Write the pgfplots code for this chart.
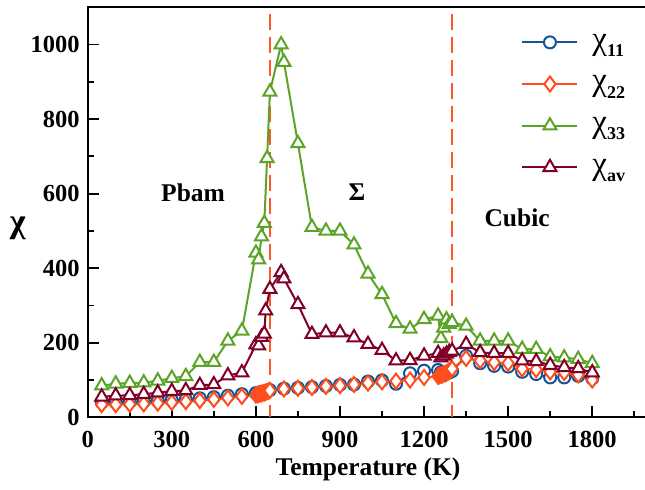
\documentclass[border=0pt]{standalone}
\usepackage{fontspec}
\setmainfont{Liberation Serif}
\usepackage{pgfplots}
\pgfplotsset{compat=1.18}

\definecolor{cblue}{RGB}{22,84,152}
\definecolor{corange}{RGB}{255,78,28}
\definecolor{cgreen}{RGB}{92,164,40}
\definecolor{cmaroon}{RGB}{128,0,40}
\definecolor{cdash}{RGB}{255,88,40}

\newcommand{\leg}[1]{{\fontsize{33}{33}\selectfont χ}\raisebox{-0.3em}{\fontsize{18}{18}\selectfont\bfseries #1}}

\begin{document}
\begin{tikzpicture}
\begin{axis}[
  scale only axis,
  width=560.6pt, height=410pt,
  xmin=0, xmax=2000, ymin=0, ymax=1100,
  xtick={0,300,...,1800},
  minor xtick={150,450,...,1950},
  ytick={0,200,...,1000},
  minor ytick={100,300,...,900},
  tick align=inside,
  xtick pos=bottom, ytick pos=left,
  major tick length=11pt, minor tick length=6pt,
  axis line style={line width=2pt},
  every tick/.style={line width=1.8pt, black},
  tick label style={font=\fontsize{24.5}{28}\selectfont\bfseries},
  /pgf/number format/assume math mode=true,
  /pgf/number format/1000 sep={},
  xticklabel shift=10pt,
  yticklabel shift=4.5pt,
  xlabel={Temperature (K)},
  ylabel={\fontsize{34}{34}\selectfont χ},
  label style={font=\fontsize{25.5}{30}\selectfont\bfseries},
  xlabel style={at={(axis description cs:0.5,0)}, anchor=center, yshift=-52pt},
  ylabel style={rotate=-90, at={(axis description cs:0,0.462)}, anchor=center, xshift=-70pt},
  every axis plot/.append style={line width=2pt},
  legend style={draw=none, fill=none, at={(axis description cs:0.768,0.945)},
    anchor=north west, font=\fontsize{25}{30}\selectfont, row sep=21pt,
    cells={anchor=west},
    /tikz/every odd column/.append style={column sep=12pt}},
  legend image code/.code={\draw[mark repeat=2,mark phase=2,#1]
    plot coordinates {(0pt,0pt) (27.5pt,0pt) (55pt,0pt)};},
]

% vertical phase boundaries
\addplot[forget plot, color=cdash, line width=2pt, dash pattern=on 16pt off 7pt]
  coordinates {(650,1083) (650,0)};
\addplot[forget plot, color=cdash, line width=2pt, dash pattern=on 16pt off 7pt]
  coordinates {(1300,1083) (1300,0)};

% chi_11
\addplot[color=cblue, mark=*, mark size=6pt, mark options={fill=white, line width=2pt}]
  coordinates {
  (50,40) (100,40) (150,41) (200,42) (250,44) (300,46) (350,48) (400,51)
  (450,54) (500,58) (550,62) (600,65) (610,66) (620,68) (630,69) (640,71)
  (650,73) (700,77) (750,79) (800,81) (850,84) (900,87) (950,88) (1000,96)
  (1050,99) (1100,90) (1150,118) (1200,125) (1250,127) (1260,121) (1270,118)
  (1280,118) (1290,120) (1300,124) (1350,165) (1400,145) (1450,138) (1500,136)
  (1550,122) (1600,116) (1650,107) (1700,107) (1750,111) (1800,104)
  };
\addlegendentry{\leg{11}}

% chi_22
\addplot[color=corange, mark=diamond*, mark size=7.5pt, mark options={fill=white, line width=2pt}]
  coordinates {
  (50,34) (100,34) (150,35) (200,36) (250,38) (300,40) (350,42) (400,45)
  (450,48) (500,52) (550,56) (600,60) (605,61) (610,62) (615,63) (620,64)
  (625,65) (630,66) (635,67) (640,69) (645,70) (650,72) (700,76) (750,78)
  (800,80) (850,83) (900,85) (950,88) (1000,92) (1050,95) (1100,97)
  (1150,100) (1200,107) (1250,110) (1255,112) (1260,113) (1265,114)
  (1270,116) (1275,117) (1280,119) (1285,121) (1290,124) (1295,127)
  (1300,130) (1350,158) (1400,152) (1450,147) (1500,145) (1550,130)
  (1600,128) (1650,122) (1700,120) (1750,114) (1800,100)
  };
\addlegendentry{\leg{22}}

% chi_33
\addplot[color=cgreen, mark=triangle*, mark size=7.5pt, mark options={fill=white, line width=2pt}]
  coordinates {
  (50,85) (100,90) (150,92) (200,93) (250,98) (300,105) (350,110) (400,148)
  (450,148) (500,205) (550,232) (600,441) (610,423) (620,485) (630,521)
  (640,695) (650,873) (690,1000) (700,953) (750,735) (800,510) (850,500)
  (900,500) (950,463) (1000,385) (1050,330) (1100,252) (1150,237) (1200,263)
  (1250,272) (1260,212) (1270,240) (1280,262) (1290,250) (1300,255)
  (1350,245) (1400,205) (1450,205) (1500,205) (1550,183) (1600,183)
  (1650,163) (1700,160) (1750,156) (1800,145)
  };
\addlegendentry{\leg{33}}

% chi_av
\addplot[color=cmaroon, mark=triangle*, mark size=7.5pt, mark options={fill=white, line width=2pt}]
  coordinates {
  (50,55) (100,58) (150,59) (200,62) (250,66) (300,70) (350,72) (400,86)
  (450,88) (500,112) (550,120) (600,195) (610,192) (620,215) (630,224)
  (635,286) (650,344) (690,389) (700,372) (750,303) (800,223) (850,227)
  (900,227) (950,214) (1000,196) (1050,180) (1100,152) (1150,153)
  (1200,165) (1250,172) (1260,160) (1270,165) (1280,170) (1290,175)
  (1300,178) (1350,196) (1400,174) (1450,172) (1500,172) (1550,152)
  (1600,150) (1650,140) (1700,134) (1750,131) (1800,120)
  };
\addlegendentry{\leg{av}}

\node[font=\fontsize{25.5}{30}\selectfont\bfseries] at (axis cs:376,603) {Pbam};
\node[font=\fontsize{25.5}{30}\selectfont\bfseries] at (axis cs:961,603) {Σ};
\node[font=\fontsize{25.5}{30}\selectfont\bfseries] at (axis cs:1532,536) {Cubic};
\end{axis}
\pgfresetboundingbox
\path ([shift={(-87.7pt,-72.3pt)}]current axis.south west)
  rectangle ([shift={(557.3pt,7.3pt)}]current axis.north west);
\end{tikzpicture}
\end{document}
